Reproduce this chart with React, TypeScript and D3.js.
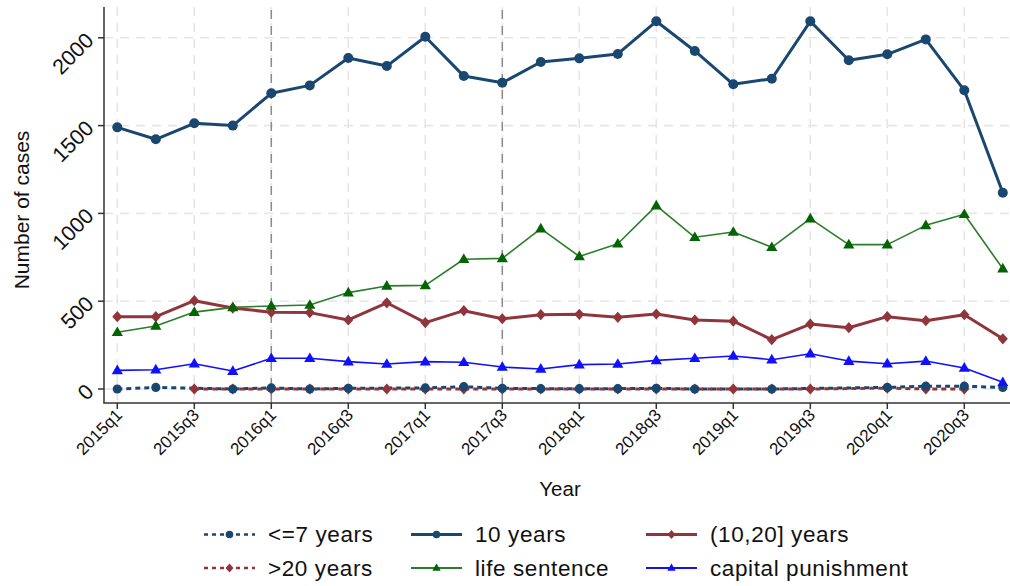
import React from "react";
import * as d3 from "d3";

// Quarterly sentencing counts, 2015q1–2020q4
const quarters = [
  "2015q1", "2015q2", "2015q3", "2015q4",
  "2016q1", "2016q2", "2016q3", "2016q4",
  "2017q1", "2017q2", "2017q3", "2017q4",
  "2018q1", "2018q2", "2018q3", "2018q4",
  "2019q1", "2019q2", "2019q3", "2019q4",
  "2020q1", "2020q2", "2020q3", "2020q4",
];
const upTo7Years: (number | null)[] = [0, 9, null, 0, 6, 0, 4, null, 6, 13, 4, 2, 2, 2, 4, 0, null, 0, null, null, 9, 16, 16, 9];
const tenYears = [1490, 1422, 1513, 1500, 1684, 1729, 1885, 1839, 2006, 1782, 1744, 1862, 1883, 1908, 2094, 1925, 1735, 1767, 2094, 1872, 1906, 1991, 1701, 1118];
const tenTo20Years = [412, 412, 503, 461, 437, 435, 393, 491, 378, 446, 400, 423, 425, 408, 427, 393, 386, 281, 370, 349, 412, 389, 423, 286];
const over20Years: (number | null)[] = [null, null, 0, 0, 0, 0, 0, 0, 0, 0, 0, 0, 0, 0, 0, 0, 0, 0, 0, null, 5, 0, 0, null];
const lifeSentence = [323, 359, 438, 465, 473, 478, 549, 587, 590, 739, 744, 913, 755, 827, 1044, 864, 894, 807, 970, 822, 822, 932, 995, 685];
const capitalPunishment = [106, 110, 144, 102, 175, 175, 156, 142, 156, 152, 125, 114, 139, 142, 163, 175, 188, 167, 201, 159, 144, 159, 120, 38];

const yTicks = [0, 500, 1000, 1500, 2000];
const xTickQuarters = quarters.filter((_, i) => i % 2 === 0);
const referenceQuarters = ["2016q1", "2017q3"];

const NAVY = "#1a476f";
const MAROON = "#90353b";
const GREEN = "#2a7d2a";
const GREEN_MARK = "#046404";
const BLUE = "#1010ff";
const FONT = "'Liberation Sans', Arial, Helvetica, sans-serif";

type Marker = "circle" | "diamond" | "triangle";

interface Series {
  name: string;
  values: (number | null)[];
  color: string;
  markColor: string;
  width: number;
  dash?: string;
  marker: Marker;
  size: number;
}

const series: Series[] = [
  { name: "<=7 years", values: upTo7Years, color: NAVY, markColor: NAVY, width: 3, dash: "5,4", marker: "circle", size: 4.6 },
  { name: "10 years", values: tenYears, color: NAVY, markColor: NAVY, width: 3, marker: "circle", size: 5 },
  { name: "(10,20] years", values: tenTo20Years, color: MAROON, markColor: MAROON, width: 3, marker: "diamond", size: 5.6 },
  { name: ">20 years", values: over20Years, color: MAROON, markColor: MAROON, width: 3, dash: "5,4", marker: "diamond", size: 5.6 },
  { name: "life sentence", values: lifeSentence, color: GREEN, markColor: GREEN_MARK, width: 1.6, marker: "triangle", size: 5.6 },
  { name: "capital punishment", values: capitalPunishment, color: BLUE, markColor: BLUE, width: 1.6, marker: "triangle", size: 5.6 },
];

function markerPath(kind: Marker, s: number): string {
  if (kind === "diamond") return `M0,${-s}L${s * 0.9},0L0,${s}L${-s * 0.9},0Z`;
  if (kind === "triangle") return `M0,${-s * 1.05}L${s},${s * 0.68}L${-s},${s * 0.68}Z`;
  return "";
}

function MarkerShape({ kind, s, color, x, y }: { kind: Marker; s: number; color: string; x: number; y: number }) {
  if (kind === "circle") return <circle cx={x} cy={y} r={s} fill={color} />;
  return <path d={markerPath(kind, s)} transform={`translate(${x},${y})`} fill={color} />;
}

export default function App() {
  const W = 1010;
  const H = 586;
  const axisLeft = 104;
  const axisBottom = 403;
  const axisTop = 7;

  const x = d3.scaleLinear().domain([0, quarters.length - 1]).range([117.3, 1002.8]);
  const y = d3.scaleLinear().domain([0, 2000]).range([389, 37.8]);

  const xOf = (q: string) => x(quarters.indexOf(q));

  const lineFor = (s: Series) => {
    const pts = s.values
      .map((v, i) => (v === null ? null : ([x(i), y(v)] as [number, number])))
      .filter((p): p is [number, number] => p !== null);
    return d3.line()(pts) ?? "";
  };

  // draw order: dotted small-count lines, then main lines, markers on top
  const order = [0, 3, 1, 2, 4, 5];

  const legendCols = [204, 411, 646];
  const legendRows = [534.5, 568];
  const keyLen = 51;

  return (
    <svg
      width={W}
      height={H}
      style={{ position: "absolute", left: 0, top: 0, background: "#fff" }}
      fontFamily={FONT}
    >
      <rect width={W} height={H} fill="#fff" />

      {/* grid */}
      {yTicks.map((t) => (
        <line key={`gy${t}`} x1={axisLeft} x2={W} y1={y(t)} y2={y(t)} stroke="#e6e6e6" strokeWidth={1.6} strokeDasharray="9,7" />
      ))}
      {xTickQuarters.map((q) => (
        <line key={`gx${q}`} x1={xOf(q)} x2={xOf(q)} y1={axisTop} y2={axisBottom} stroke="#e6e6e6" strokeWidth={1.6} strokeDasharray="9,7" />
      ))}
      {referenceQuarters.map((q) => (
        <line key={`ref${q}`} x1={xOf(q)} x2={xOf(q)} y1={axisTop + 3} y2={axisBottom} stroke="#8c8c8c" strokeWidth={1.5} strokeDasharray="9,7" />
      ))}

      {/* lines */}
      {order.map((k) => {
        const s = series[k];
        return (
          <path key={`l${k}`} d={lineFor(s)} fill="none" stroke={s.color} strokeWidth={s.width} strokeDasharray={s.dash} strokeLinejoin="round" />
        );
      })}
      {/* markers */}
      {[3, 0, 1, 2, 4, 5].map((k) => {
        const s = series[k];
        return (
          <g key={`m${k}`}>
            {s.values.map((v, i) =>
              v === null ? null : <MarkerShape key={i} kind={s.marker} s={s.size} color={s.markColor} x={x(i)} y={y(v)} />
            )}
          </g>
        );
      })}

      {/* axes */}
      <line x1={axisLeft} x2={axisLeft} y1={axisTop} y2={axisBottom} stroke="#333" strokeWidth={1.5} />
      <line x1={axisLeft - 0.75} x2={W} y1={axisBottom} y2={axisBottom} stroke="#333" strokeWidth={1.5} />
      {yTicks.map((t) => (
        <g key={`yt${t}`}>
          <line x1={axisLeft - 6} x2={axisLeft} y1={y(t)} y2={y(t)} stroke="#333" strokeWidth={1.5} />
          <text
            transform={`translate(${axisLeft - 9},${y(t) + 4}) rotate(-45)`}
            textAnchor="end"
            fontSize={21.5}
            fill="#111"
          >
            {t}
          </text>
        </g>
      ))}
      {xTickQuarters.map((q) => (
        <g key={`xt${q}`}>
          <line x1={xOf(q)} x2={xOf(q)} y1={axisBottom} y2={axisBottom + 6} stroke="#333" strokeWidth={1.5} />
          <text
            transform={`translate(${xOf(q) + 6},${axisBottom + 13}) rotate(-45)`}
            textAnchor="end"
            fontSize={17}
            fill="#111"
          >
            {q}
          </text>
        </g>
      ))}

      {/* axis titles */}
      <text transform="translate(29,210) rotate(-90)" textAnchor="middle" fontSize={21} fill="#111">
        Number of cases
      </text>
      <text x={560} y={496} textAnchor="middle" fontSize={20.5} fill="#111">
        Year
      </text>

      {/* legend */}
      {[0, 1, 2, 3, 4, 5].map((k) => {
        const s = series[k];
        const col = k % 3;
        const row = k < 3 ? 0 : 1;
        const x0 = legendCols[col];
        const ly = legendRows[row];
        const legendMark = s.marker === "circle" ? 3.8 : s.marker === "diamond" ? 4.4 : 4.2;
        return (
          <g key={`lg${k}`}>
            <line x1={x0} x2={x0 + keyLen} y1={ly} y2={ly} stroke={s.color} strokeWidth={s.dash ? 2.6 : s.width === 3 ? 3 : 1.8} strokeDasharray={s.dash ? "4,4" : undefined} />
            <MarkerShape kind={s.marker} s={legendMark} color={s.markColor} x={x0 + keyLen / 2} y={ly} />
            <text x={x0 + keyLen + 13} y={ly + 7.5} fontSize={22.5} letterSpacing={0.6} fill="#111">
              {s.name}
            </text>
          </g>
        );
      })}
    </svg>
  );
}
